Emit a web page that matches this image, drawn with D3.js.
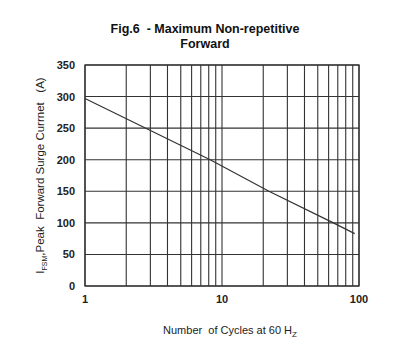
<!DOCTYPE html>
<html>
<head>
<meta charset="utf-8">
<script src="https://cdn.jsdelivr.net/npm/d3@7/dist/d3.min.js"></script>
<style>
  html, body { margin: 0; padding: 0; background: #fff; }
  svg { display: block; font-family: Arial, "Liberation Sans", sans-serif; }
  text { white-space: pre; }
</style>
</head>
<body>
<div id="chart"></div>
<script>
// Fig.6 — surge current vs number of cycles (log x)
const CYCLES = [1, 8.2, 22, 65, 93];
const CURRENT = [297, 200, 150, 100, 83];
const Y_TICKS = [0, 50, 100, 150, 200, 250, 300, 350];
const X_LABELS = [1, 10, 100];
const X_GRID = [1, 2, 3, 4, 5, 6, 7, 8, 9, 10, 20, 30, 40, 50, 60, 70, 80, 90, 100];

const W = 408, H = 354;
const m = { t: 65, r: 49, b: 68, l: 85 };

const svg = d3.select('#chart').append('svg')
  .attr('width', W).attr('height', H);

const x = d3.scaleLog().domain([1, 100]).range([m.l, W - m.r]);
const y = d3.scaleLinear().domain([0, 350]).range([H - m.b, m.t]);

const GRID = '#333';

// grid
svg.append('g').selectAll('line').data(X_GRID).join('line')
  .attr('x1', d => x(d)).attr('x2', d => x(d))
  .attr('y1', m.t).attr('y2', H - m.b)
  .attr('stroke', GRID).attr('stroke-width', 1.1);
svg.append('g').selectAll('line').data(Y_TICKS).join('line')
  .attr('x1', m.l).attr('x2', W - m.r)
  .attr('y1', d => y(d)).attr('y2', d => y(d))
  .attr('stroke', GRID).attr('stroke-width', 1.1);

// frame
svg.append('rect')
  .attr('x', m.l).attr('y', m.t)
  .attr('width', W - m.r - m.l).attr('height', H - m.b - m.t)
  .attr('fill', 'none').attr('stroke', GRID).attr('stroke-width', 1.3);

// curve
const pts = CYCLES.map((c, i) => [c, CURRENT[i]]);
svg.append('path')
  .attr('d', d3.line().x(d => x(d[0])).y(d => y(d[1]))(pts))
  .attr('fill', 'none').attr('stroke', '#333').attr('stroke-width', 1.2);

// y tick labels
svg.append('g').selectAll('text').data(Y_TICKS).join('text')
  .attr('x', m.l - 10).attr('y', d => y(d) + 4)
  .attr('text-anchor', 'end')
  .attr('font-size', 11).attr('font-weight', 'bold').attr('fill', '#222')
  .text(d => d);

// x tick labels
svg.append('g').selectAll('text').data(X_LABELS).join('text')
  .attr('x', d => x(d)).attr('y', H - m.b + 17)
  .attr('text-anchor', 'middle')
  .attr('font-size', 11).attr('font-weight', 'bold').attr('fill', '#222')
  .text(d => d);

// title
svg.append('text').attr('x', 205).attr('y', 33)
  .attr('text-anchor', 'middle')
  .attr('font-size', 12.5).attr('font-weight', 'bold').attr('fill', '#111')
  .text('Fig.6  - Maximum Non-repetitive');
svg.append('text').attr('x', 205).attr('y', 48)
  .attr('text-anchor', 'middle')
  .attr('font-size', 12.5).attr('font-weight', 'bold').attr('fill', '#111')
  .text('Forward');

// x axis title
const xt = svg.append('text').attr('x', 230).attr('y', 334)
  .attr('text-anchor', 'middle')
  .attr('font-size', 11).attr('fill', '#222');
xt.append('tspan').text('Number  of Cycles at 60 H');
xt.append('tspan').attr('font-size', 8).attr('dy', 3).text('Z');

// y axis title
const yt = svg.append('text')
  .attr('transform', `translate(44,${(m.t + H - m.b) / 2}) rotate(-90)`)
  .attr('text-anchor', 'middle')
  .attr('font-size', 11.5).attr('fill', '#222');
yt.append('tspan').text('I');
yt.append('tspan').attr('font-size', 7).attr('dy', 3).text('FSM');
yt.append('tspan').attr('dy', -3).text(',Peak  Forward Surge Currnet   (A)');
</script>
</body>
</html>
